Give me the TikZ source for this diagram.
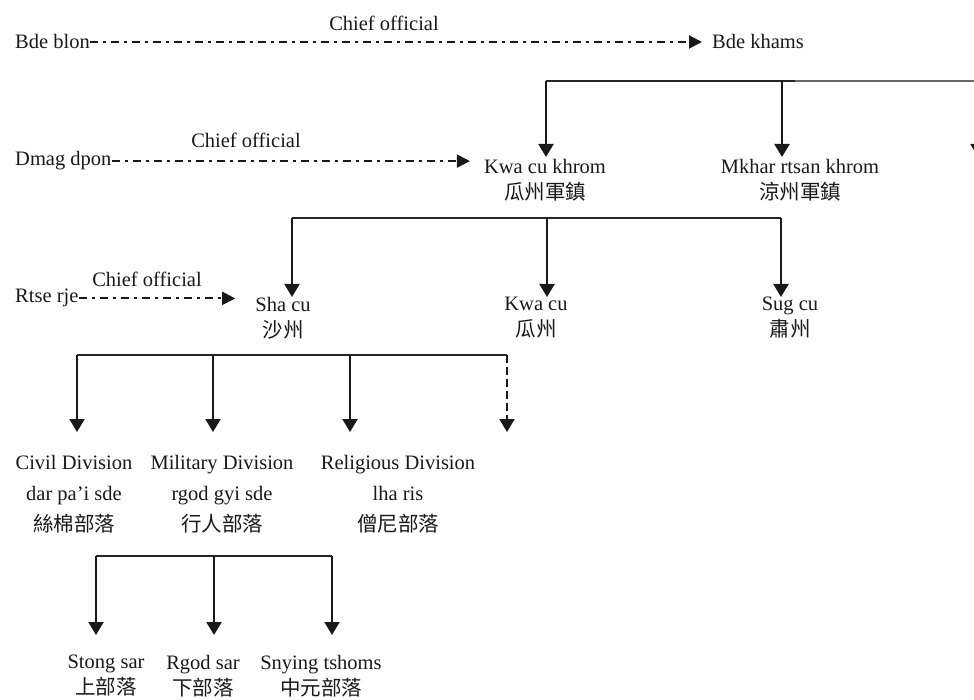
\documentclass[tikz,border=0pt]{standalone}
\usepackage{fontspec}
\setmainfont{Liberation Serif}
\newfontfamily\cjk{Noto Sans CJK TC}
\usetikzlibrary{arrows.meta}
\begin{document}
\begin{tikzpicture}[x=1pt,y=-1pt,
  every node/.style={inner sep=0pt, align=center, text=black!90, font=\fontsize{20.5}{26}\selectfont},
  divn/.style={font=\fontsize{20.5}{31}\selectfont},
  arr/.style={-{Triangle[length=13pt,width=15pt]}, line width=2.2pt, draw=black!90},
  bus/.style={line width=1.5pt, draw=black!85},
  ddash/.style={-{Triangle[length=13pt,width=13pt]}, line width=2pt, draw=black!90, dash pattern=on 8pt off 5pt on 3pt off 5pt},
  dsh/.style={arr, dash pattern=on 8pt off 4pt}
]
\useasboundingbox (0,0) rectangle (974,700);
\clip (0,0) rectangle (974,700);
\fill[white] (0,0) rectangle (974,700);

% nodes
\node[anchor=base west] (bdeblon) at (15,49) {Bde blon};
\node[anchor=base west] (bdekhams) at (712,49) {Bde khams};
\node (lab1) at (384,23) {Chief official};
\node[anchor=base west] (dmag) at (15,166) {Dmag dpon};
\node (lab2) at (246,140) {Chief official};
\node[anchor=north] (kck) at (545,159) {Kwa cu khrom\\{\cjk 瓜州軍鎮}};
\node[anchor=north] (mkh) at (800,159) {Mkhar rtsan khrom\\{\cjk 涼州軍鎮}};
\node[anchor=base west] (rtse) at (15,303) {Rtse rje};
\node (lab3) at (147,279) {Chief official};
\node[anchor=north] (shacu) at (283,297) {Sha cu\\{\cjk 沙州}};
\node[anchor=north] (kwacu) at (536,297) {Kwa cu\\{\cjk 瓜州}};
\node[anchor=north] (sugcu) at (790,297) {Sug cu\\{\cjk 肅州}};
\node[anchor=north,divn] (civ) at (74,455) {Civil Division\\dar pa’i sde\\{\cjk 絲棉部落}};
\node[anchor=north,divn] (mil) at (222,455) {Military Division\\rgod gyi sde\\{\cjk 行人部落}};
\node[anchor=north,divn] (rel) at (398,455) {Religious Division\\lha ris\\{\cjk 僧尼部落}};
\node[anchor=north] (stong) at (106,655) {Stong sar\\{\cjk 上部落}};
\node[anchor=north] (rgod) at (203,655) {Rgod sar\\{\cjk 下部落}};
\node[anchor=north] (snying) at (321,655) {Snying tshoms\\{\cjk 中元部落}};

% chief official lines
\draw[ddash, shorten >=10pt] (bdeblon.east) -- (bdeblon.east -| bdekhams.west);
\draw[ddash, shorten >=14pt] (dmag.east) -- (dmag.east -| kck.west);
\draw[ddash, shorten >=20pt] (rtse.east) -- (rtse.east -| shacu.west);

% top bus
\coordinate (t1) at (546,81);
\coordinate (t2) at (782,81);
\coordinate (t3) at (978,81);
\coordinate (offc) at (978,157);
\draw[bus] (t1) -- (t2) -- (795,81);
\draw[bus, draw=black!60, line width=1.2pt] (795,81) -- (t3);
\draw[arr, shorten >=2pt] (t1) -- (t1 |- kck.north);
\draw[arr, shorten >=2pt] (t2) -- (t2 |- mkh.north);
\draw[arr] (t3) -- (offc);

% second bus
\coordinate (s1) at (292,218);
\coordinate (s2) at (547,218);
\coordinate (s3) at (781,218);
\draw[bus] (s1) -- (s2) -- (s3);
\draw[arr] (s1) -- (s1 |- shacu.north);
\draw[arr] (s2) -- (s2 |- kwacu.north);
\draw[arr] (s3) -- (s3 |- sugcu.north);

% third bus
\coordinate (c1) at (77,355);
\coordinate (c2) at (213,355);
\coordinate (c3) at (350,355);
\coordinate (c4) at (507,355);
\coordinate (more) at (507,432);
\draw[bus] (c1) -- (c2) -- (c3) -- (c4);
\draw[arr, shorten >=23pt] (c1) -- (c1 |- civ.north);
\draw[arr, shorten >=23pt] (c2) -- (c2 |- mil.north);
\draw[arr, shorten >=23pt] (c3) -- (c3 |- rel.north);
\draw[dsh] (c4) -- (more);

% fourth bus
\coordinate (m1) at (96,556);
\coordinate (m2) at (214,556);
\coordinate (m3) at (332,556);
\draw[bus] (m1) -- (m2) -- (m3);
\draw[arr, shorten >=20pt] (m1) -- (m1 |- stong.north);
\draw[arr, shorten >=20pt] (m2) -- (m2 |- rgod.north);
\draw[arr, shorten >=20pt] (m3) -- (m3 |- snying.north);
\end{tikzpicture}
\end{document}
